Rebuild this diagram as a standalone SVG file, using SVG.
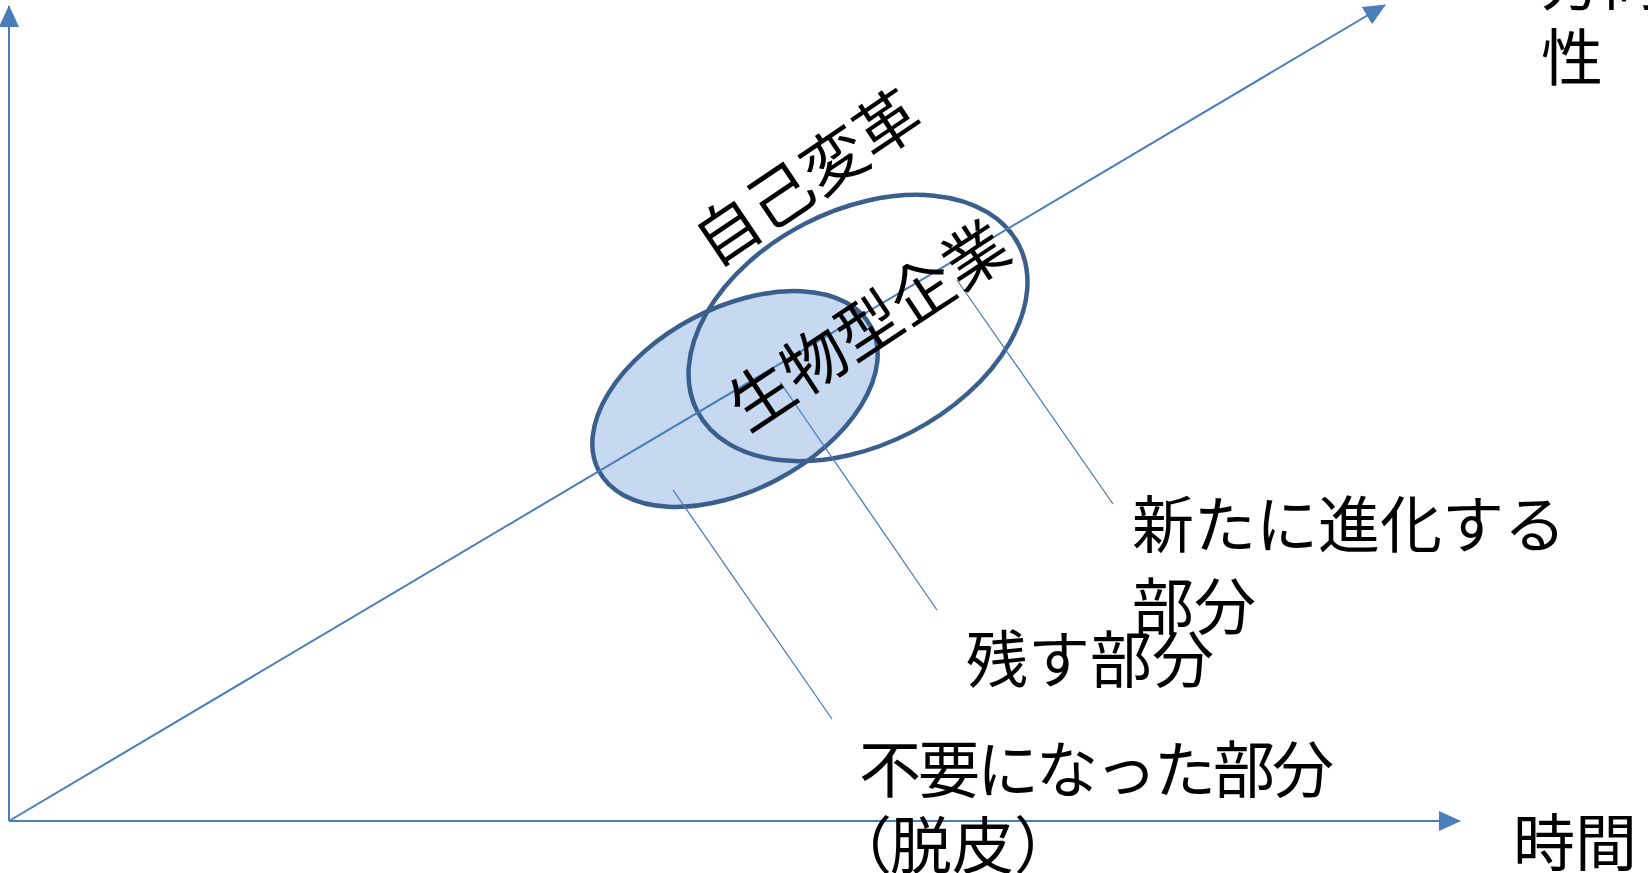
<svg xmlns="http://www.w3.org/2000/svg" width="1648" height="873" viewBox="0 0 1648 873">
<style>
.lbl{font-family:"Noto Sans CJK JP","Noto Sans CJK SC",sans-serif;font-size:62px;fill:#000}
.rot{font-family:"Noto Sans CJK JP","Noto Sans CJK SC",sans-serif;font-size:64px;fill:#000;text-anchor:middle}
.ax{stroke:#4A7EBB;stroke-width:2;fill:none}
.ld{stroke:#4A7EBB;stroke-width:1.3;fill:none}
.ell{stroke:#3A5F8C;stroke-width:4.5}
</style>
<defs>
<marker id="ah" markerUnits="userSpaceOnUse" markerWidth="22" markerHeight="20" refX="21" refY="10" orient="auto">
<path d="M0,0 L22,10 L0,20 z" fill="#4A7EBB"/>
</marker>
</defs>
<rect width="1648" height="873" fill="#fff"/>
<g id="shapes">
<g id="old-part"><ellipse cx="735" cy="399" rx="154" ry="91" transform="rotate(-27.8 735 399)" fill="#C6D9F1" class="ell"/></g>
<g id="new-part"><ellipse cx="858" cy="328" rx="181" ry="117" transform="rotate(-27.4 858 328)" fill="none" class="ell"/></g>
</g>
<g id="connectors">
<path class="ax" d="M9,821 V6" marker-end="url(#ah)"/>
<path class="ax" d="M9,821 H1460" marker-end="url(#ah)"/>
<path class="ax" d="M9,821 L1385,5" stroke-width="1.5" marker-end="url(#ah)"/>
<path class="ld" d="M957,280 L1113,504"/>
<path class="ld" d="M780,382 L937,610"/>
<path class="ld" d="M673,490 L832,719"/>
</g>
<g id="label-jiko"><text class="rot" transform="translate(807,177) rotate(-34)" x="0" y="24">自己変革</text></g>
<g id="label-seibutsu"><text class="rot" transform="translate(868,325) rotate(-33.4)" x="0" y="24">生物型企業</text></g>
<g id="label-new"><text class="lbl" x="1132" y="548">新たに進化する</text><text class="lbl" x="1132" y="630">部分</text></g>
<g id="label-keep"><text class="lbl" x="966" y="683">残す部分</text></g>
<g id="label-old"><text class="lbl" x="859" y="793" textLength="475">不要になった部分</text><text class="lbl" y="869"><tspan x="830">（</tspan><tspan x="890">脱皮）</tspan></text></g>
<g id="label-time"><text class="lbl" x="1513" y="866">時間</text></g>
<g id="label-dir"><text class="lbl" x="1541" y="5">方向</text><text class="lbl" x="1541" y="81">性</text></g>
</svg>
